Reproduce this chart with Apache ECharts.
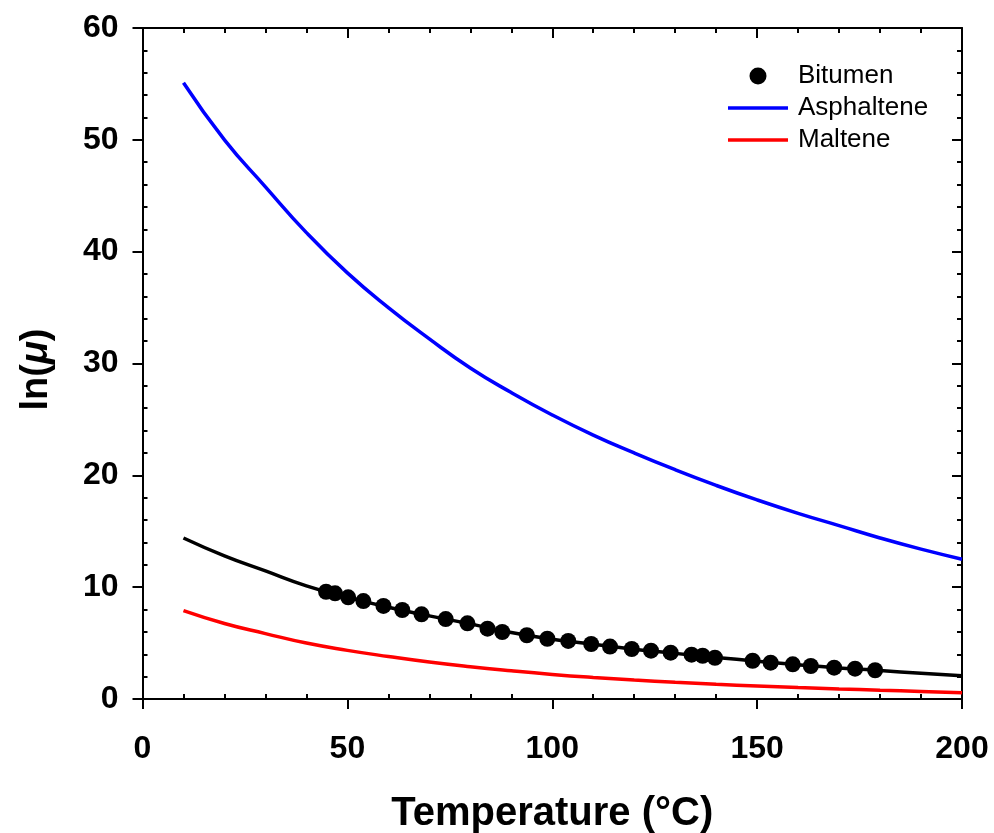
<!DOCTYPE html>
<html>
<head>
<meta charset="utf-8">
<script src="https://cdn.jsdelivr.net/npm/echarts@6/dist/echarts.min.js"></script>
<style>
html,body{margin:0;padding:0;background:#fff;}
#c{width:994px;height:833px;}
</style>
</head>
<body>
<div id="c"></div>
<script>
// Curve temperatures (°C)
const curveTemps = [10,20,30,40,50,60,70,80,90,100,110,120,130,140,150,160,170,180,190,200];
// ln(mu) for each model curve
const asphaltene = [55.1,50.0,45.8,41.7,38.1,35.0,32.2,29.6,27.4,25.4,23.6,22.0,20.5,19.1,17.8,16.6,15.5,14.4,13.4,12.5];
const bitumenFit = [14.4,12.8,11.45,10.12,9.1,8.2,7.43,6.72,5.95,5.35,4.9,4.45,4.08,3.72,3.38,3.06,2.78,2.55,2.3,2.08];
const maltene = [7.9,6.75,5.85,5.0,4.35,3.8,3.3,2.88,2.52,2.2,1.93,1.7,1.5,1.32,1.16,1.02,0.9,0.79,0.68,0.55];
// Bitumen measurements
const bitumenT = [44.8,47.0,50.2,53.9,58.8,63.4,68.1,74.0,79.3,84.2,87.8,93.8,98.8,103.9,109.5,114.1,119.4,124.1,128.9,134.0,136.7,139.7,148.9,153.3,158.7,163.1,168.8,173.9,178.8];
const bitumenLnMu = [9.59,9.45,9.09,8.76,8.32,7.96,7.57,7.15,6.77,6.29,5.99,5.70,5.39,5.19,4.92,4.69,4.47,4.32,4.14,3.96,3.87,3.69,3.42,3.25,3.10,2.95,2.80,2.71,2.57];

const pairs = (xs, ys) => xs.map((x, i) => [x, ys[i]]);
const FONT = '"Liberation Sans", Arial, sans-serif';
const gridBox = {left: 142.5, right: 32, top: 28, bottom: 134, containLabel: false, outerBoundsMode: 'none'};
const axisLineStyle = {color: '#000', width: 2};
const lineIcon = 'path://M0,0 L60,0 L60,3.5 L0,3.5 Z';

const chart = echarts.init(document.getElementById('c'), null, {renderer: 'canvas'});
chart.setOption({
  backgroundColor: '#fff',
  animation: false,
  grid: [Object.assign({}, gridBox), Object.assign({}, gridBox)],
  legend: {
    orient: 'vertical',
    left: 723, top: 58,
    itemWidth: 60, itemHeight: 17, itemGap: 6,
    data: [
      {name: 'Bitumen', icon: 'circle'},
      {name: 'Asphaltene', icon: lineIcon},
      {name: 'Maltene', icon: lineIcon}
    ],
    textStyle: {fontFamily: FONT, fontSize: 26, color: '#000', lineHeight: 25, padding: [0,0,0,5]}
  },
  xAxis: [
    {
      gridIndex: 0, type: 'value', position: 'bottom', min: 0, max: 200, interval: 50,
      name: 'Temperature (°C)', nameLocation: 'middle', nameGap: 95,
      nameTextStyle: {fontFamily: FONT, fontSize: 40, fontWeight: 'bold', color: '#000'},
      axisLine: {show: true, onZero: false, lineStyle: axisLineStyle},
      axisTick: {show: true, inside: false, length: 10, lineStyle: axisLineStyle},
      axisLabel: {margin: 34, fontFamily: FONT, fontSize: 32, fontWeight: 'bold', color: '#000'},
      splitLine: {show: false}
    },
    {
      gridIndex: 0, type: 'value', position: 'top', min: 0, max: 200, interval: 50,
      axisLine: {show: true, onZero: false, lineStyle: axisLineStyle},
      axisTick: {show: true, inside: true, length: 10, lineStyle: axisLineStyle},
      minorTick: {show: true, splitNumber: 5, length: 5, lineStyle: axisLineStyle},
      axisLabel: {show: false},
      splitLine: {show: false}
    },
    {
      gridIndex: 1, type: 'value', position: 'bottom', min: 0, max: 200, interval: 50,
      axisLine: {show: false},
      axisTick: {show: false, inside: true},
      minorTick: {show: true, splitNumber: 5, length: 5, lineStyle: axisLineStyle},
      axisLabel: {show: false},
      splitLine: {show: false}
    }
  ],
  yAxis: [
    {
      gridIndex: 0, type: 'value', position: 'left', min: 0, max: 60, interval: 10,
      name: '{a|ln(}{b|μ}{a|)}', nameLocation: 'middle', nameGap: 87, nameRotate: 90,
      nameTextStyle: {
        color: '#000',
        padding: [0, 12, 0, 0],
        rich: {
          a: {fontFamily: FONT, fontSize: 38, fontWeight: 'bold', color: '#000'},
          b: {fontFamily: FONT, fontSize: 38, fontWeight: 'bold', fontStyle: 'italic', color: '#000'}
        }
      },
      axisLine: {show: true, onZero: false, lineStyle: axisLineStyle},
      axisTick: {show: true, inside: false, length: 10, lineStyle: axisLineStyle},
      axisLabel: {margin: 24, fontFamily: FONT, fontSize: 32, fontWeight: 'bold', color: '#000'},
      splitLine: {show: false}
    },
    {
      gridIndex: 0, type: 'value', position: 'right', min: 0, max: 60, interval: 10,
      axisLine: {show: true, onZero: false, lineStyle: axisLineStyle},
      axisTick: {show: true, inside: true, length: 10, lineStyle: axisLineStyle},
      minorTick: {show: true, splitNumber: 5, length: 5, lineStyle: axisLineStyle},
      axisLabel: {show: false},
      splitLine: {show: false}
    },
    {
      gridIndex: 1, type: 'value', position: 'left', min: 0, max: 60, interval: 10,
      axisLine: {show: false},
      axisTick: {show: false, inside: true},
      minorTick: {show: true, splitNumber: 5, length: 5, lineStyle: axisLineStyle},
      axisLabel: {show: false},
      splitLine: {show: false}
    }
  ],
  series: [
    {
      name: 'Asphaltene', type: 'line', xAxisIndex: 0, yAxisIndex: 0,
      data: pairs(curveTemps, asphaltene), smooth: true, symbol: 'none',
      lineStyle: {color: '#0000ff', width: 3.5}, itemStyle: {color: '#0000ff'}
    },
    {
      name: 'Maltene', type: 'line', xAxisIndex: 0, yAxisIndex: 0,
      data: pairs(curveTemps, maltene), smooth: true, symbol: 'none',
      lineStyle: {color: '#ff0000', width: 3.5}, itemStyle: {color: '#ff0000'}
    },
    {
      name: 'Bitumen model', type: 'line', xAxisIndex: 0, yAxisIndex: 0,
      data: pairs(curveTemps, bitumenFit), smooth: true, symbol: 'none',
      lineStyle: {color: '#000', width: 3.5}, itemStyle: {color: '#000'}
    },
    {
      name: 'Bitumen', type: 'scatter', xAxisIndex: 0, yAxisIndex: 0, z: 5,
      data: pairs(bitumenT, bitumenLnMu), symbol: 'circle', symbolSize: 16,
      itemStyle: {color: '#000', opacity: 1}
    }
  ]
});
</script>
</body>
</html>
